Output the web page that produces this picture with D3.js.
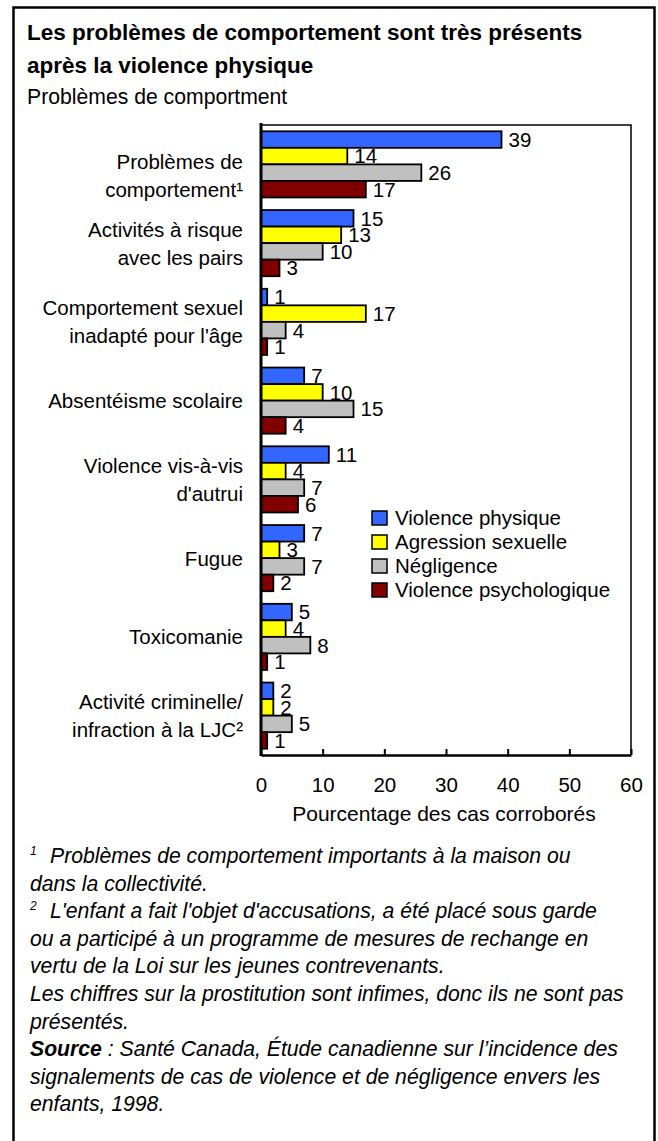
<!DOCTYPE html>
<html>
<head>
<meta charset="utf-8">
<script src="https://cdn.jsdelivr.net/npm/d3@7"></script>
<style>
  body { margin: 0; background: #fff; }
  svg { display: block; font-family: "Liberation Sans", Arial, sans-serif; }
</style>
</head>
<body>
<svg id="chart" width="658" height="1141"></svg>
<script>
// categories (line breaks as in the original axis)
var categories = [
  "Problèmes de\ncomportement¹",
  "Activités à risque\navec les pairs",
  "Comportement sexuel\ninadapté pour l'âge",
  "Absentéisme scolaire",
  "Violence vis-à-vis\nd'autrui",
  "Fugue",
  "Toxicomanie",
  "Activité criminelle/\ninfraction à la LJC²"
];
var seriesNames = ["Violence physique", "Agression sexuelle", "Négligence", "Violence psychologique"];
var violencePhysique = [39, 15, 1, 7, 11, 7, 5, 2];
var agressionSexuelle = [14, 13, 17, 10, 4, 3, 4, 2];
var negligence = [26, 10, 4, 15, 7, 7, 8, 5];
var violencePsycho = [17, 3, 1, 4, 6, 2, 1, 1];
var xTicks = [0, 10, 20, 30, 40, 50, 60];

var colors = ["#3366ff", "#ffff00", "#c0c0c0", "#800000"];
var allSeries = [violencePhysique, agressionSexuelle, negligence, violencePsycho];

var svg = d3.select("#chart");
var fs = 20.5;

// outer frame
svg.append("rect")
    .attr("x", 13.5).attr("y", 7.5)
    .attr("width", 641).attr("height", 1150)
    .attr("fill", "none").attr("stroke", "#000").attr("stroke-width", 2.5);

// titles
svg.append("text").attr("x", 27).attr("y", 40)
    .attr("font-size", 22.5).attr("font-weight", "bold")
    .text("Les problèmes de comportement sont très présents");
svg.append("text").attr("x", 27).attr("y", 73)
    .attr("font-size", 22.5).attr("font-weight", "bold")
    .text("après la violence physique");
svg.append("text").attr("x", 27).attr("y", 104)
    .attr("font-size", 21.2)
    .text("Problèmes de comportment");

var pLeft = 261, pRight = 631, pTop = 125, pBottom = 755;

var x = d3.scaleLinear().domain([0, 60]).range([pLeft, pRight]);
var y0 = d3.scaleBand().domain(categories).range([pTop, pBottom])
    .paddingInner(0.16).paddingOuter(0.08);
var y1 = d3.scaleBand().domain(d3.range(4)).range([0, y0.bandwidth()]);

// plot frame top / right
svg.append("path")
    .attr("d", "M" + pLeft + "," + pTop + "H" + pRight + "V" + pBottom)
    .attr("fill", "none").attr("stroke", "#000").attr("stroke-width", 1.5);

var g = svg.append("g");
categories.forEach(function(c, i) {
  allSeries.forEach(function(s, k) {
    var yy = y0(c) + y1(k);
    g.append("rect")
        .attr("x", x(0))
        .attr("y", yy)
        .attr("width", x(s[i]) - x(0))
        .attr("height", y1.bandwidth())
        .attr("fill", colors[k])
        .attr("stroke", "#000")
        .attr("stroke-width", 1.8);
    g.append("text")
        .attr("x", x(s[i]) + 7)
        .attr("y", yy + y1.bandwidth() / 2)
        .attr("dy", "0.36em")
        .attr("font-size", fs)
        .text(s[i]);
  });
});

// category labels (first one sits a bit lower in the original)
categories.forEach(function(c, i) {
  var lines = c.split("\n");
  var cy = y0(c) + y0.bandwidth() / 2 + (i === 0 ? 11 : 0);
  var lh = 28;
  lines.forEach(function(l, j) {
    svg.append("text")
        .attr("x", 243)
        .attr("y", cy + (j - (lines.length - 1) / 2) * lh)
        .attr("dy", "0.36em")
        .attr("text-anchor", "end")
        .attr("font-size", fs)
        .text(l);
  });
});

// x axis
var xAxis = svg.append("g")
    .attr("transform", "translate(0," + pBottom + ")")
    .call(d3.axisBottom(x).tickValues(xTicks).tickSizeInner(-6).tickSizeOuter(0).tickPadding(22));
xAxis.select(".domain").attr("stroke-width", 2.5);
xAxis.selectAll(".tick line").attr("stroke-width", 2);
xAxis.selectAll(".tick text")
    .attr("font-size", fs).attr("font-family", "Liberation Sans, Arial, sans-serif").attr("fill", "#000");

// y axis line
svg.append("line")
    .attr("x1", pLeft).attr("x2", pLeft)
    .attr("y1", pTop - 2).attr("y2", pBottom + 1)
    .attr("stroke", "#000").attr("stroke-width", 3);

svg.append("text")
    .attr("x", 444).attr("y", 821)
    .attr("text-anchor", "middle").attr("font-size", 21)
    .text("Pourcentage des cas corroborés");

// legend
var legend = svg.append("g").attr("transform", "translate(372,518)");
seriesNames.forEach(function(n, k) {
  var row = legend.append("g").attr("transform", "translate(0," + (k * 24) + ")");
  row.append("rect")
      .attr("x", 0).attr("y", -7)
      .attr("width", 15).attr("height", 14)
      .attr("fill", colors[k]).attr("stroke", "#000").attr("stroke-width", 1.5);
  row.append("text")
      .attr("x", 23).attr("dy", "0.36em")
      .attr("font-size", fs)
      .text(n);
});

// notes
var notes = [
  {sup: "1", text: "Problèmes de comportement importants à la maison ou"},
  {text: "dans la collectivité."},
  {sup: "2", text: "L'enfant a fait l'objet d'accusations, a été placé sous garde"},
  {text: "ou a participé à un programme de mesures de rechange en"},
  {text: "vertu de la Loi sur les jeunes contrevenants."},
  {text: "Les chiffres sur la prostitution sont infimes, donc ils ne sont pas"},
  {text: "présentés."},
  {bold: "Source", text: " : Santé Canada, Étude canadienne sur l’incidence des"},
  {text: "signalements de cas de violence et de négligence envers les"},
  {text: "enfants, 1998."}
];
notes.forEach(function(n, i) {
  var t = svg.append("text")
      .attr("x", 30).attr("y", 863 + i * 27.6)
      .attr("font-size", 21.2).attr("font-style", "italic");
  if (n.sup) {
    t.append("tspan").attr("font-size", 12).attr("dy", -8).text(n.sup);
    t.append("tspan").attr("x", 50).attr("dy", 8).text(n.text);
  } else if (n.bold) {
    t.append("tspan").attr("font-weight", "bold").text(n.bold);
    t.append("tspan").text(n.text);
  } else {
    t.text(n.text);
  }
});
</script>
</body>
</html>
